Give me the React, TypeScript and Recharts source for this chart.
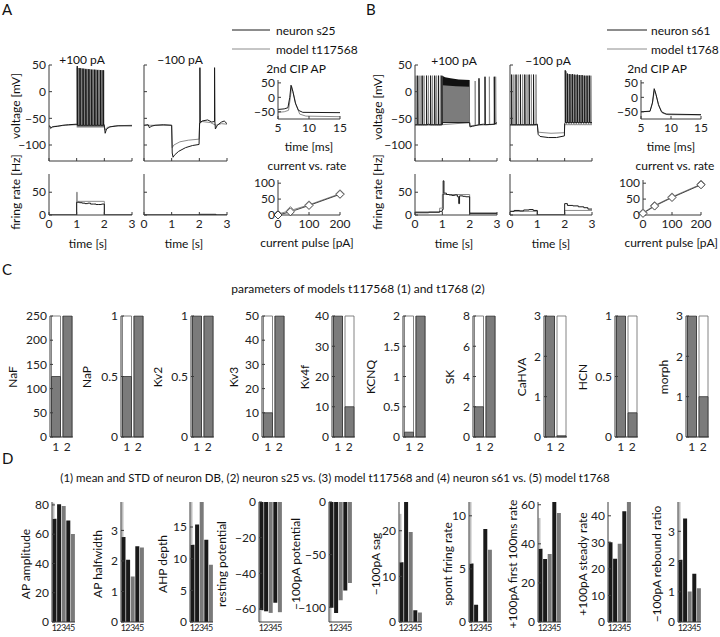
import React from 'react';
import { ComposedChart, Line, Area, BarChart, Bar, XAxis, YAxis, Cell } from 'recharts';

const FONT = 'Lato, "Open Sans", sans-serif';
const INK = '#1a1a1a';
const MODEL = '#8c8c8c';
const AX = '#3a3a3a';
const STD = '#bdbdbd';

// ---- panel A traces: [t (s), mV]; spikes: [t, trough, peak]
const aPlusNeuronBase = [[0, -64], [0.03, -65], [0.06, -69], [0.12, -66], [0.3, -65], [0.5, -63], [0.7, -62], [1.0, -61], [1.99, -62], [2.01, -68], [2.03, -78], [2.08, -70], [2.2, -66], [2.5, -64], [3, -64]];
const aPlusNeuronSpikes = [[1.02, -63, 48], [1.12, -63, 44], [1.23, -63, 43], [1.33, -63, 42], [1.44, -63, 42], [1.54, -63, 41], [1.65, -63, 41], [1.75, -63, 40], [1.86, -63, 40], [1.96, -63, 40]];
const aPlusModelBase = [[0, -63], [0.05, -66], [0.1, -67], [0.2, -65], [0.6, -63], [1.0, -62], [2.0, -63], [2.02, -72], [2.1, -67], [2.4, -64], [3, -63]];
const aPlusModelBand = [[1.0, -67, 45], [1.5, -67, 42], [2.0, -67, 40]];
const aMinusNeuronBase = [[0, -63], [0.15, -62], [0.2, -68], [0.25, -65], [0.4, -63], [0.7, -62], [1.0, -63], [1.02, -115], [1.05, -123], [1.1, -119], [1.25, -112], [1.5, -105], [1.75, -101], [1.99, -99], [2.01, -58], [2.1, -55], [2.3, -53], [2.45, -57], [2.53, -56], [2.58, -70], [2.65, -63], [2.8, -57], [2.9, -55], [3, -60]];
const aMinusNeuronSpikes = [[2.02, -58, 45], [2.55, -56, 45]];
const aMinusModelBase = [[0, -63], [1.0, -63], [1.02, -105], [1.08, -100], [1.3, -94], [1.6, -91], [1.99, -89], [2.01, -60], [2.1, -56], [2.4, -58], [2.6, -63], [2.8, -60], [3, -61]];

// ---- panel B traces
const bPlusNeuronBase = [[0, -62], [0.5, -61], [1.0, -58], [2.0, -58], [2.01, -66], [2.1, -65], [2.5, -61], [3, -58]];
const bPlusNeuronSpikes = [[0.1, -62, 30], [0.26, -62, 30], [0.42, -62, 30], [0.57, -62, 30], [0.72, -62, 30], [0.86, -62, 30], [0.98, -62, 30], [2.34, -62, 25], [2.56, -62, 28], [2.9, -61, 28]];
const bPlusNeuronBand = [[1.0, -58, 30], [1.1, -58, 27], [1.3, -58, 25], [1.6, -58, 23], [2.0, -58, 22]];
const bPlusModelBase = [[0, -63], [1.0, -62], [2.0, -58], [2.01, -64], [3, -60]];
const bPlusModelSpikes = [[0.04, -63, 30], [0.18, -63, 30], [0.33, -63, 30], [0.49, -63, 30], [0.64, -63, 30], [0.79, -63, 30], [0.93, -63, 30], [2.2, -63, 20], [2.72, -62, 28], [2.95, -61, 28]];
const bPlusModelBand = [[1.0, -58, 12], [1.5, -58, 10], [2.0, -58, 9]];
const bMinusNeuronBase = [[0, -62], [1.0, -61], [1.03, -80], [1.1, -84], [1.4, -86], [1.7, -86], [1.99, -83], [2.0, -60], [3, -58]];
const bMinusNeuronSpikes = [[0.06, -62, 32], [0.22, -62, 32], [0.38, -62, 32], [0.54, -62, 32], [0.7, -62, 32], [0.86, -62, 32], [2.02, -58, 40], [2.1, -58, 34], [2.19, -58, 33], [2.28, -58, 33], [2.37, -58, 32], [2.46, -58, 32], [2.55, -58, 31], [2.64, -58, 31], [2.73, -58, 30], [2.82, -58, 30], [2.91, -58, 30]];
const bMinusModelBase = [[0, -63], [1.0, -62], [1.03, -76], [1.5, -78], [1.99, -77], [2.0, -62], [3, -62]];
const bMinusModelSpikes = [[0.14, -63, 32], [0.3, -63, 32], [0.46, -63, 32], [0.62, -63, 32], [0.78, -63, 32], [0.95, -63, 32], [2.06, -62, 38], [2.15, -62, 33], [2.24, -62, 32], [2.33, -62, 32], [2.42, -62, 31], [2.51, -62, 31], [2.6, -62, 31], [2.69, -62, 30], [2.78, -62, 30], [2.87, -62, 30], [2.96, -62, 30]];

// ---- firing rates [t, Hz] (step)
const aPlusRateNeuron = [[0, 0], [1.0, 28], [1.1, 27], [1.2, 26], [1.3, 25], [1.4, 26], [1.5, 24], [1.6, 24], [1.7, 23], [1.8, 23], [1.9, 24], [2.0, 0], [3, 0]];
const aPlusRateModel = [[0, 0], [1.0, 50], [1.02, 30], [2.0, 0], [3, 0]];
const aMinusRateNeuron = [[0, 0], [2.0, 1.5], [2.6, 0], [3, 0]];
const aMinusRateModel = [[0, 0], [3, 0]];
const bPlusRateNeuron = [[0, 5], [0.5, 6], [0.9, 8], [1.0, 12], [1.03, 75], [1.06, 48], [1.15, 45], [1.25, 44], [1.35, 43], [1.45, 44], [1.55, 40], [1.6, 25], [1.63, 42], [1.75, 41], [1.85, 40], [2.0, 3], [3, 3]];
const bPlusRateModel = [[0, 7], [0.9, 15], [1.0, 45], [2.0, 5], [3, 5]];
const bMinusRateNeuron = [[0, 8], [0.15, 10], [0.35, 9], [0.5, 11], [0.7, 12], [0.85, 10], [1.0, 0], [2.0, 25], [2.1, 21], [2.3, 20], [2.5, 18], [2.7, 16], [2.85, 13], [3, 13]];
const bMinusRateModel = [[0, 8], [1.0, 0], [2.0, 10], [3, 10]];

// ---- 2nd CIP AP [ms, mV]
const aApNeuron = [[5, -42], [6, -40], [6.6, -36], [6.9, 0], [7.1, 42], [7.4, 20], [7.8, -20], [8.3, -45], [9, -52], [15, -53]];
const aApModel = [[5, -52], [6, -50], [6.7, -45], [7, 0], [7.2, 38], [7.5, 12], [7.9, -25], [8.5, -58], [9.5, -65], [15, -67]];
const bApNeuron = [[5, -50], [6.5, -48], [6.9, -20], [7.2, 30], [7.5, 10], [7.9, -25], [8.4, -50], [9.2, -58], [15, -60]];
const bApModel = [[5, -50], [6.5, -49], [6.95, -15], [7.25, 27], [7.55, 5], [8, -30], [8.6, -55], [9.5, -60], [15, -61]];

// ---- current vs rate
const cvCurrent = [0, 40, 100, 200];
const aCvNeuron = [0, 10, 30, 65];
const aCvModel = [3, 14, 32, 67];
const bCvNeuron = [5, 28, 55, 95];
const bCvModel = [7, 30, 57, 97];

// ---- panel C
const paramNames = ['NaF', 'NaP', 'Kv2', 'Kv3', 'Kv4f', 'KCNQ', 'SK', 'CaHVA', 'HCN', 'morph'];
const paramModel1 = [125, 0.5, 1, 10, 40, 0.08, 2, 3, 1, 3];
const paramModel2 = [250, 1, 1, 50, 10, 2, 8, 0.03, 0.2, 1];
const paramMax = [250, 1, 1, 50, 40, 2, 8, 3, 1, 3];
const paramTicks = [[0, 50, 100, 150, 200, 250], [0, 0.5, 1], [0, 0.5, 1], [0, 10, 20, 30, 40, 50], [0, 10, 20, 30, 40], [0, 0.5, 1, 1.5, 2], [0, 2, 4, 6, 8], [0, 1, 2, 3], [0, 0.5, 1], [0, 1, 2, 3]];
const paramLeft = [50, 121, 191, 262, 332, 403, 473, 544, 615, 686];
const paramLabelX = [12, 86, 157, 233, 304, 370, 449, 521, 582, 663];

// ---- panel D
const featureNames = ['AP amplitude', 'AP halfwidth', 'AHP depth', 'resting potential', '\u2212100pA potential', '\u2212100pA sag', 'spont firing rate', '+100pA first 100ms rate', '+100pA steady rate', '\u2212100pA rebound ratio'];
const featureMean = [70.5, 2.78, 12.2, -60.7, -100.5, 13.1, 5.5, 37.5, 30, 2.06];
const featureStd = [11, 1.2, 7, 7, 14, 10.6, 6, 15.7, 0.5, 2];
const featureS25 = [80.5, 2.04, 15.4, -61.3, -105.4, 27, 1.63, 32.2, 23.8, 3.42];
const featureT117568 = [79.3, 1.49, 20, -62.2, -93.3, 19.7, 0.06, 34.8, 29.5, 1.01];
const featureS61 = [69.3, 2.48, 13, -56.5, -84, 2.55, 8.75, 62, 41.7, 1.6];
const featureT1768 = [60.2, 2.44, 9.05, -61.8, -77, 2.1, 6.8, 55.8, 46, 1.12];
const featureLimit = [82, 3.93, 18.95, -67.3, -114, 26.3, 11.3, 61.4, 45.2, 3.97];
const featureTicks = [[0, 20, 40, 60, 80], [0, 1, 2, 3], [0, 5, 10, 15], [-60, -40, -20, 0], [-100, -50, 0], [0, 10, 20], [0, 5, 10], [0, 20, 40, 60], [0, 10, 20, 30, 40], [0, 1, 2, 3]];
const featureLeft = [52, 121, 190, 259, 329, 399, 469, 538, 608, 678];
const featureLabelX = [25, 97, 162, 221, 295, 375, 447, 512, 582, 656];
const featureColors = [INK, INK, '#7a7a7a', INK, '#7a7a7a'];

const TICK = { fontSize: 12, fill: '#222', fontFamily: FONT };
const minus = (v: number) => String(v).replace('-', '\u2212');
const noTick = () => <g />;

const pts = (a: number[][]) => a.map(([t, v]) => ({ t, v }));
const band = (a: number[][]) => a.map(([t, lo, hi]) => ({ t, lo, hi }));
function trace(base: number[][], spikes: number[][] = []) {
  const out = pts(base);
  spikes.forEach(([t, lo, hi]) => {
    out.push({ t, v: lo }, { t: t + 0.001, v: hi }, { t: t + 0.012, v: lo });
  });
  return out.sort((a, b) => a.t - b.t);
}
const zipPts = (xs: number[], ys: number[]) => xs.map((t, i) => ({ t, v: ys[i] }));

const diamond = (p: any) => (
  <path key={p.index} d={`M${p.cx},${p.cy - 4}L${p.cx + 4},${p.cy}L${p.cx},${p.cy + 4}L${p.cx - 4},${p.cy}Z`} fill="#fff" stroke={p.stroke} strokeWidth={1} />
);

type Series = { data: { t: number; v: number }[]; color: string; width?: number; step?: boolean; dots?: boolean };
type Band = { data: { t: number; lo: number; hi: number }[]; color: string };

function TracePlot(props: {
  left: number; top: number; w: number; h: number;
  xDomain: number[]; xTicks: number[]; yDomain: number[]; yTicks: number[];
  xLabels?: boolean; yLabels?: boolean; series: Series[]; bands?: Band[]; clip?: boolean;
}) {
  const { left, top, w, h, xDomain, xTicks, yDomain, yTicks, xLabels, yLabels, series, bands = [], clip = true } = props;
  const yw = 36, mt = 10, mr = 14, xh = 22;
  return (
    <div style={{ position: 'absolute', left: left - yw, top: top - mt }}>
      <ComposedChart width={yw + w + mr} height={mt + h + xh} margin={{ top: mt, right: mr, left: 0, bottom: 0 }}>
        <XAxis type="number" dataKey="t" domain={xDomain} ticks={xTicks} interval={0} allowDataOverflow={clip}
          height={xh} stroke={AX} tickSize={-3} tickMargin={7} tick={xLabels ? TICK : noTick} />
        <YAxis type="number" domain={yDomain} ticks={yTicks} interval={0} allowDataOverflow={clip}
          width={yw} stroke={AX} tickSize={-3} tickMargin={6} tick={yLabels ? TICK : noTick} tickFormatter={minus} />
        {bands.map((b, i) => (
          <Area key={'b' + i} data={b.data} dataKey={(d: any) => [d.lo, d.hi]} type="linear" stroke="none"
            fill={b.color} fillOpacity={1} isAnimationActive={false} />
        ))}
        {series.map((s, i) => (
          <Line key={'l' + i} data={s.data} dataKey="v" type={s.step ? 'stepAfter' : 'linear'} stroke={s.color}
            strokeWidth={s.width ?? 1} dot={s.dots ? diamond : false} isAnimationActive={false} />
        ))}
      </ComposedChart>
    </div>
  );
}

const C_TOP = 316, C_H = 121, C_W = 23;
function ParamPlot({ i }: { i: number }) {
  const rows = [{ n: '1', v: paramModel1[i] }, { n: '2', v: paramModel2[i] }];
  const yw = 40, mt = 10, mr = 4, xh = 20;
  const dom = [0, paramMax[i]];
  return (
    <div style={{ position: 'absolute', left: paramLeft[i] - yw, top: C_TOP - mt }}>
      <BarChart width={yw + C_W + mr} height={mt + C_H + xh} data={rows} margin={{ top: mt, right: mr, left: 0, bottom: 0 }} barCategoryGap={1.5}>
        <XAxis dataKey="n" height={xh} stroke={AX} tickLine={false} tickSize={0} tickMargin={5} tick={TICK} interval={0} />
        <XAxis xAxisId="top" dataKey="n" orientation="top" height={0} stroke={AX} tickLine={false} tick={false} />
        <YAxis domain={dom} ticks={paramTicks[i]} width={yw} stroke={AX} tickSize={-3} tickMargin={6} tick={TICK} interval={0} allowDataOverflow />
        <YAxis yAxisId="r" orientation="right" domain={dom} ticks={paramTicks[i]} width={0} stroke={AX} tickSize={-3} tick={noTick} interval={0} />
        <Bar dataKey="v" fill="#7b7b7b" stroke="#333" strokeWidth={0.8} background={{ fill: '#fff', stroke: '#666', strokeWidth: 0.8 }} isAnimationActive={false} />
      </BarChart>
    </div>
  );
}

const stdShape = (p: any) => {
  const y = Math.min(p.y, p.y + p.height);
  return <rect x={p.x} y={y} width={2} height={Math.abs(p.height)} fill={STD} />;
};

const D_TOP = 502, D_H = 120, D_W = 23;
function FeaturePlot({ i }: { i: number }) {
  const vals = [featureMean[i], featureS25[i], featureT117568[i], featureS61[i], featureT1768[i]];
  const neg = featureLimit[i] < 0;
  const rows = vals.map((v, k) => ({ n: String(k + 1), v, s: k === 0 ? (neg ? -featureStd[i] : featureStd[i]) : 0 }));
  const dom = neg ? [featureLimit[i], 0] : [0, featureLimit[i]];
  const yw = 40, mt = 10, mr = 6, xh = 15;
  return (
    <div style={{ position: 'absolute', left: featureLeft[i] - yw, top: D_TOP - mt }}>
      <BarChart width={yw + D_W + mr} height={mt + D_H + xh} data={rows} margin={{ top: mt, right: mr, left: 0, bottom: 0 }} barCategoryGap={0.5}>
        <XAxis dataKey="n" height={xh} stroke={AX} tickLine={false} tickSize={0} tickMargin={3} tick={{ ...TICK, fontSize: 9 }} interval={0} />
        <XAxis xAxisId="top" dataKey="n" orientation="top" height={0} stroke={AX} tickLine={false} tick={false} />
        <YAxis domain={dom} ticks={featureTicks[i]} width={yw} stroke={AX} tickSize={-3} tickMargin={6} tick={TICK} tickFormatter={minus} interval={0} allowDataOverflow />
        <YAxis yAxisId="r" orientation="right" domain={dom} ticks={featureTicks[i]} width={0} stroke={AX} tickSize={-3} tick={noTick} interval={0} />
        <Bar dataKey="v" stackId="a" isAnimationActive={false}>
          {rows.map((r, k) => <Cell key={k} fill={featureColors[k]} />)}
        </Bar>
        <Bar dataKey="s" stackId="a" fill={STD} shape={stdShape} isAnimationActive={false} />
      </BarChart>
    </div>
  );
}

function Txt({ x, y, children, size = 12, anchor = 'middle', rot = false }: any) {
  return (
    <text x={x} y={y} fontSize={size} textAnchor={anchor} dominantBaseline="central" fill="#111"
      fontFamily={FONT} transform={rot ? `rotate(-90 ${x} ${y})` : undefined}>{children}</text>
  );
}

const V_TOP = 65, V_H = 96, R_TOP = 174, R_H = 41;
const vTicks = [-100, -50, 0, 50];

export default function App() {
  const tx = [0, 1, 2, 3];
  const vPlot = (left: number, w: number, yl: boolean, series: Series[], bands: Band[] = []) => (
    <TracePlot left={left} top={V_TOP} w={w} h={V_H} xDomain={[0, 3]} xTicks={tx} yDomain={[-130, 50]} yTicks={vTicks}
      yLabels={yl} series={series} bands={bands} />
  );
  const rPlot = (left: number, w: number, yl: boolean, n: number[][], m: number[][]) => (
    <TracePlot left={left} top={R_TOP} w={w} h={R_H} xDomain={[0, 3]} xTicks={tx} yDomain={[0, 90]} yTicks={[0, 50]}
      xLabels yLabels={yl} series={[{ data: pts(m), color: MODEL, step: true }, { data: pts(n), color: INK, step: true }]} />
  );
  const apPlot = (left: number, w: number, n: number[][], m: number[][]) => (
    <TracePlot left={left} top={80} w={w} h={39} xDomain={[5, 15]} xTicks={[5, 10, 15]} yDomain={[-75, 60]} yTicks={[-50, 0, 50]}
      xLabels yLabels series={[{ data: pts(m), color: MODEL }, { data: pts(n), color: INK }]} />
  );
  const cvPlot = (left: number, w: number, n: number[], m: number[]) => (
    <TracePlot left={left} top={180} w={w} h={35} xDomain={[0, 200]} xTicks={[0, 100, 200]} yDomain={[0, 110]} yTicks={[0, 50, 100]}
      xLabels yLabels clip={false}
      series={[{ data: zipPts(cvCurrent, m), color: MODEL, dots: true }, { data: zipPts(cvCurrent, n), color: '#444', dots: true }]} />
  );

  return (
    <div style={{ position: 'absolute', left: 0, top: 0, width: 720, height: 637, background: '#fff', fontFamily: FONT, overflow: 'hidden' }}>
      {/* A */}
      {vPlot(49, 83, true, [
        { data: trace(aPlusModelBase), color: MODEL },
        { data: trace(aPlusNeuronBase, aPlusNeuronSpikes), color: INK },
      ], [{ data: band(aPlusModelBand), color: '#7c7c7c' }])}
      {vPlot(144, 83, false, [
        { data: trace(aMinusModelBase), color: MODEL },
        { data: trace(aMinusNeuronBase, aMinusNeuronSpikes), color: INK },
      ])}
      {rPlot(49, 83, true, aPlusRateNeuron, aPlusRateModel)}
      {rPlot(144, 83, false, aMinusRateNeuron, aMinusRateModel)}
      {apPlot(278, 62, aApNeuron, aApModel)}
      {cvPlot(278, 62, aCvNeuron, aCvModel)}

      {/* B */}
      {vPlot(415, 82, true, [
        { data: trace(bPlusModelBase, bPlusModelSpikes), color: MODEL },
        { data: trace(bPlusNeuronBase, bPlusNeuronSpikes), color: INK },
      ], [{ data: band(bPlusNeuronBand), color: '#111' }, { data: band(bPlusModelBand), color: '#7c7c7c' }])}
      {vPlot(510, 82, false, [
        { data: trace(bMinusModelBase, bMinusModelSpikes), color: MODEL },
        { data: trace(bMinusNeuronBase, bMinusNeuronSpikes), color: INK },
      ])}
      {rPlot(415, 82, true, bPlusRateNeuron, bPlusRateModel)}
      {rPlot(510, 82, false, bMinusRateNeuron, bMinusRateModel)}
      {apPlot(641, 60, bApNeuron, bApModel)}
      {cvPlot(643, 58, bCvNeuron, bCvModel)}

      {/* C */}
      {paramNames.map((_, i) => <ParamPlot key={i} i={i} />)}
      {/* D */}
      {featureNames.map((_, i) => <FeaturePlot key={i} i={i} />)}

      <svg width={720} height={637} style={{ position: 'absolute', left: 0, top: 0, pointerEvents: 'none' }}>
        <Txt x={2} y={9} size={15} anchor="start">A</Txt>
        <Txt x={366} y={9} size={15} anchor="start">B</Txt>
        <Txt x={2} y={269} size={15} anchor="start">C</Txt>
        <Txt x={2} y={458} size={15} anchor="start">D</Txt>

        <line x1={232} y1={30} x2={270} y2={30} stroke={INK} strokeWidth={1} />
        <line x1={232} y1={49} x2={270} y2={49} stroke={MODEL} strokeWidth={1} />
        <Txt x={276} y={30} anchor="start">neuron s25</Txt>
        <Txt x={276} y={49} anchor="start">model t117568</Txt>
        <line x1={607} y1={30} x2={647} y2={30} stroke={INK} strokeWidth={1} />
        <line x1={607} y1={49} x2={647} y2={49} stroke={MODEL} strokeWidth={1} />
        <Txt x={651} y={30} anchor="start">neuron s61</Txt>
        <Txt x={651} y={49} anchor="start">model t1768</Txt>

        <Txt x={82} y={59}>+100 pA</Txt>
        <Txt x={180} y={59}>{'\u2212100 pA'}</Txt>
        <Txt x={454} y={60}>+100 pA</Txt>
        <Txt x={548} y={60}>{'\u2212100 pA'}</Txt>

        <Txt x={15} y={106} rot>voltage [mV]</Txt>
        <Txt x={15} y={192} rot>firing rate [Hz]</Txt>
        <Txt x={377} y={107} rot>voltage [mV]</Txt>
        <Txt x={377} y={192} rot>firing rate [Hz]</Txt>
        <Txt x={88} y={243}>time [s]</Txt>
        <Txt x={184} y={243}>time [s]</Txt>
        <Txt x={454} y={243}>time [s]</Txt>
        <Txt x={551} y={243}>time [s]</Txt>

        <Txt x={296} y={68}>2nd CIP AP</Txt>
        <Txt x={309} y={146}>time [ms]</Txt>
        <Txt x={307} y={165}>current vs. rate</Txt>
        <Txt x={307} y={242}>current pulse [pA]</Txt>
        <Txt x={657} y={68}>2nd CIP AP</Txt>
        <Txt x={671} y={146}>time [ms]</Txt>
        <Txt x={675} y={165}>current vs. rate</Txt>
        <Txt x={718} y={242} anchor="end">current pulse [pA]</Txt>

        <Txt x={358} y={288}>parameters of models t117568 (1) and t1768 (2)</Txt>
        {paramNames.map((n, i) => <Txt key={n} x={paramLabelX[i]} y={377} rot>{n}</Txt>)}

        <Txt x={335} y={477} size={11.5}>(1) mean and STD of neuron DB, (2) neuron s25 vs. (3) model t117568 and (4) neuron s61 vs. (5) model t1768</Txt>
        {featureNames.map((n, i) => <Txt key={n} x={featureLabelX[i]} y={564} rot>{n}</Txt>)}
      </svg>
    </div>
  );
}
